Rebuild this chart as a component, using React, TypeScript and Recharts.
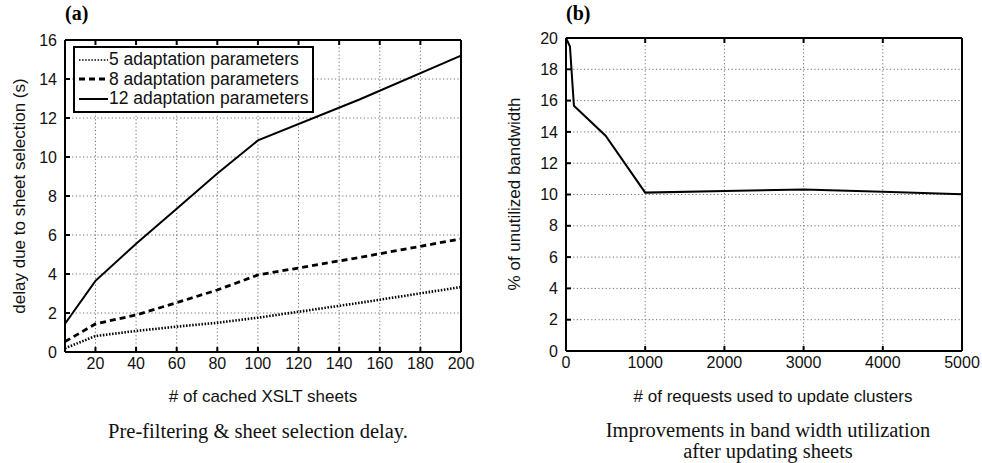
import React from 'react';
import { CartesianGrid, Legend, Line, LineChart, XAxis, YAxis } from 'recharts';

// (a) pre-filtering & sheet selection delay
const cachedSheets = [5, 20, 40, 60, 80, 100, 150, 200];
const delay5 = [0.19, 0.82, 1.08, 1.3, 1.5, 1.76, 2.52, 3.33];
const delay8 = [0.53, 1.44, 1.9, 2.53, 3.18, 3.95, 4.85, 5.8];
const delay12 = [1.45, 3.65, 5.55, 7.35, 9.15, 10.85, 12.95, 15.2];
const ticksA = [20, 40, 60, 80, 100, 120, 140, 160, 180, 200];
const yTicksA = [0, 2, 4, 6, 8, 10, 12, 14, 16];

// (b) unutilized bandwidth
const requests = [0, 50, 100, 500, 1000, 2000, 3000, 4000, 5000];
const unutilized = [20, 19.45, 15.67, 13.76, 10.12, 10.22, 10.32, 10.17, 10.02];
const ticksB = [0, 1000, 2000, 3000, 4000, 5000];
const yTicksB = [0, 2, 4, 6, 8, 10, 12, 14, 16, 18, 20];

const SANS = '"Liberation Sans", Arial, Helvetica, sans-serif';
const SERIF = '"Liberation Serif", "Times New Roman", serif';

const seriesA = [
    { key: 'p5', name: '5 adaptation parameters', dash: '1.5 1.6', width: 2.6 },
    { key: 'p8', name: '8 adaptation parameters', dash: '6 4', width: 2.8 },
    { key: 'p12', name: '12 adaptation parameters', dash: undefined, width: 2 },
];

const dataA = cachedSheets.map((x, i) => ({ x, p5: delay5[i], p8: delay8[i], p12: delay12[i] }));
const dataB = requests.map((x, i) => ({ x, v: unutilized[i] }));

const tickStyle = { fontSize: 16, fill: '#111', fontFamily: SANS };
const blank = () => '';
const GRID = { stroke: '#707070', strokeWidth: 1, strokeDasharray: '1.2 2.4' };

function LegendBox() {
    return (
        <div
            style={{
                border: '2px solid #000',
                background: '#fff',
                padding: '2px 4px 2px 4px',
                fontFamily: SANS,
                fontSize: 17.5,
                color: '#111',
                lineHeight: '19.5px',
            }}
        >
            {seriesA.map((s) => (
                <div key={s.key} style={{ display: 'flex', alignItems: 'center', whiteSpace: 'nowrap' }}>
                    <svg width={29} height={10} style={{ marginRight: 1 }}>
                        <line x1={0} y1={5} x2={29} y2={5} stroke="#000" strokeWidth={s.key === 'p5' ? 1.6 : s.width} strokeDasharray={s.dash} />
                    </svg>
                    {s.name}
                </div>
            ))}
        </div>
    );
}

const labelStyle = { position: 'absolute', whiteSpace: 'nowrap', fontFamily: SANS, fontSize: 17, color: '#111' } as const;

export default function App() {
    const axisCommon = { stroke: '#000', strokeWidth: 2, tickSize: -5 } as const;
    return (
        <div style={{ position: 'fixed', left: 0, top: 0, width: 982, height: 463, background: '#fff', overflow: 'hidden' }}>
            <div style={{ position: 'absolute', left: 65, top: 2, fontFamily: SERIF, fontWeight: 'bold', fontSize: 20 }}>(a)</div>
            <div style={{ position: 'absolute', left: 566, top: 2, fontFamily: SERIF, fontWeight: 'bold', fontSize: 20 }}>(b)</div>

            <div style={{ position: 'absolute', left: 0, top: 0 }}>
                <LineChart width={480} height={463} data={dataA} margin={{ top: 30, right: 9, bottom: 81, left: 25 }}>
                    <CartesianGrid {...GRID} />
                    <XAxis
                        dataKey="x"
                        type="number"
                        domain={[5, 200]}
                        ticks={ticksA}
                        height={30}
                        tickMargin={11}
                        tick={tickStyle}
                        {...axisCommon}
                    />
                    <XAxis
                        xAxisId="top"
                        orientation="top"
                        dataKey="x"
                        type="number"
                        domain={[5, 200]}
                        ticks={ticksA}
                        height={10}
                        tickFormatter={blank}
                        {...axisCommon}
                    />
                    <YAxis domain={[0, 16]} ticks={yTicksA} width={40} tickMargin={13} tick={tickStyle} {...axisCommon} />
                    <YAxis
                        yAxisId="right"
                        orientation="right"
                        domain={[0, 16]}
                        ticks={yTicksA}
                        width={10}
                        tickFormatter={blank}
                        {...axisCommon}
                    />
                    <Legend
                        layout="horizontal"
                        verticalAlign="middle"
                        content={<LegendBox />}
                        wrapperStyle={{ position: 'absolute', left: 73, top: 46, width: 'auto', height: 'auto' }}
                    />
                    {seriesA.map((s) => (
                        <Line
                            key={s.key}
                            dataKey={s.key}
                            name={s.name}
                            stroke="#000"
                            strokeWidth={s.width}
                            strokeDasharray={s.dash}
                            dot={false}
                            isAnimationActive={false}
                        />
                    ))}
                </LineChart>
            </div>

            <div style={{ position: 'absolute', left: 490, top: 0 }}>
                <LineChart width={492} height={463} data={dataB} margin={{ top: 28, right: 10, bottom: 82, left: 36 }}>
                    <CartesianGrid {...GRID} />
                    <XAxis
                        dataKey="x"
                        type="number"
                        domain={[0, 5000]}
                        ticks={ticksB}
                        height={30}
                        tickMargin={11}
                        tick={tickStyle}
                        {...axisCommon}
                    />
                    <XAxis
                        xAxisId="top"
                        orientation="top"
                        dataKey="x"
                        type="number"
                        domain={[0, 5000]}
                        ticks={ticksB}
                        height={10}
                        tickFormatter={blank}
                        {...axisCommon}
                    />
                    <YAxis domain={[0, 20]} ticks={yTicksB} width={40} tickMargin={13} tick={tickStyle} {...axisCommon} />
                    <YAxis
                        yAxisId="right"
                        orientation="right"
                        domain={[0, 20]}
                        ticks={yTicksB}
                        width={10}
                        tickFormatter={blank}
                        {...axisCommon}
                    />
                    <Line dataKey="v" stroke="#000" strokeWidth={2} dot={false} isAnimationActive={false} />
                </LineChart>
            </div>

            <div style={{ ...labelStyle, left: 20, top: 196, transform: 'translate(-50%, -50%) rotate(-90deg)' }}>
                delay due to sheet selection (s)
            </div>
            <div style={{ ...labelStyle, left: 515, top: 194, transform: 'translate(-50%, -50%) rotate(-90deg)' }}>
                % of unutilized bandwidth
            </div>

            <div style={{ ...labelStyle, left: 263, top: 397, transform: 'translate(-50%, -50%)' }}># of cached XSLT sheets</div>
            <div style={{ ...labelStyle, left: 773, top: 397, transform: 'translate(-50%, -50%)' }}>
                # of requests used to update clusters
            </div>

            <div
                style={{
                    position: 'absolute',
                    left: 258,
                    top: 431,
                    transform: 'translate(-50%, -50%)',
                    whiteSpace: 'nowrap',
                    fontFamily: SERIF,
                    fontSize: 20.5,
                    color: '#111',
                }}
            >
                Pre-filtering &amp; sheet selection delay.
            </div>
            <div
                style={{
                    position: 'absolute',
                    left: 768,
                    top: 441,
                    transform: 'translate(-50%, -50%)',
                    whiteSpace: 'nowrap',
                    textAlign: 'center',
                    fontFamily: SERIF,
                    fontSize: 20.5,
                    lineHeight: '21px',
                    color: '#111',
                }}
            >
                Improvements in band width utilization
                <br />
                after updating sheets
            </div>
        </div>
    );
}
